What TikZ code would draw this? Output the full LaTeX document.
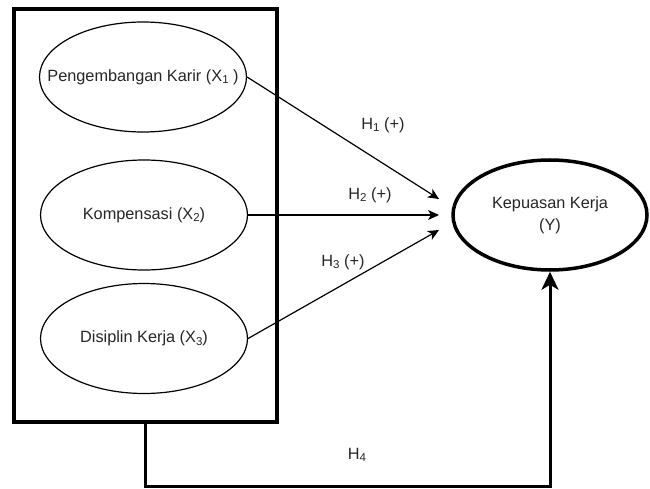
\documentclass[tikz,border=0pt]{standalone}
\usepackage{fontspec}
\setmainfont{Liberation Sans}
\usetikzlibrary{shapes.geometric,arrows.meta}
\newcommand\lowsub[1]{\raisebox{-0.3ex}{\fontsize{11.5}{12}\selectfont #1}}
\begin{document}
\begin{tikzpicture}[x=1pt,y=-1pt,
  txt/.style={font=\fontsize{16.3}{22}\selectfont, text=black!85},
  varell/.style={ellipse, draw, line width=1.2pt, inner sep=0pt, minimum width=207pt, minimum height=110pt},
  yell/.style={ellipse, draw, line width=3.5pt, inner sep=0pt, minimum width=194pt, minimum height=110pt},
  outerbox/.style={draw, line width=4pt, inner sep=0pt},
  thinarrow/.style={line width=1.2pt, -{Stealth[length=11pt,width=10pt,inset=3pt]}},
  thickarrow/.style={line width=3pt, -{Stealth[length=18pt,width=17pt,inset=5pt]}},
  lbl/.style={txt, inner sep=0pt, align=center}]
\useasboundingbox (0,0) rectangle (650,489);
\node[outerbox, minimum width=263pt, minimum height=412pt] (box) at (145.5,215.5) {};
\node[varell] (x1) at (143,77) {};
\node[varell] (x2) at (144,215) {};
\node[varell] (x3) at (144,338.5) {};
\node[yell] (y) at (550,215) {};
\node[lbl] (t1) at (x1) {Pengembangan Karir (X\lowsub{1} )};
\node[lbl] (t2) at (x2) {Kompensasi (X\lowsub{2})};
\node[lbl] (t3) at (x3) {Disiplin Kerja (X\lowsub{3})};
\node[lbl] (ty) at (y) {Kepuasan Kerja\\(Y)};
\coordinate (e1) at (439,199);
\coordinate (e2) at (439,215);
\coordinate (e3) at (439,230);
\coordinate (c1) at (box.south |- 0,486.5);
\coordinate (c2) at (y.south |- 0,486.5);
\draw[thinarrow] (x1.east) -- (e1);
\draw[thinarrow] (x2.east) -- (e2);
\draw[thinarrow] (x3.east) -- (e3);
\draw[thickarrow] (box.south) -- (c1) -- (c2) -- (y.south);
\node[lbl] (h1) at (383,125) {H\lowsub{1} (+)};
\node[lbl] (h2) at (370,195) {H\lowsub{2} (+)};
\node[lbl] (h3) at (343,262) {H\lowsub{3} (+)};
\node[lbl] (h4) at (357,455) {H\lowsub{4}};
\end{tikzpicture}
\end{document}
